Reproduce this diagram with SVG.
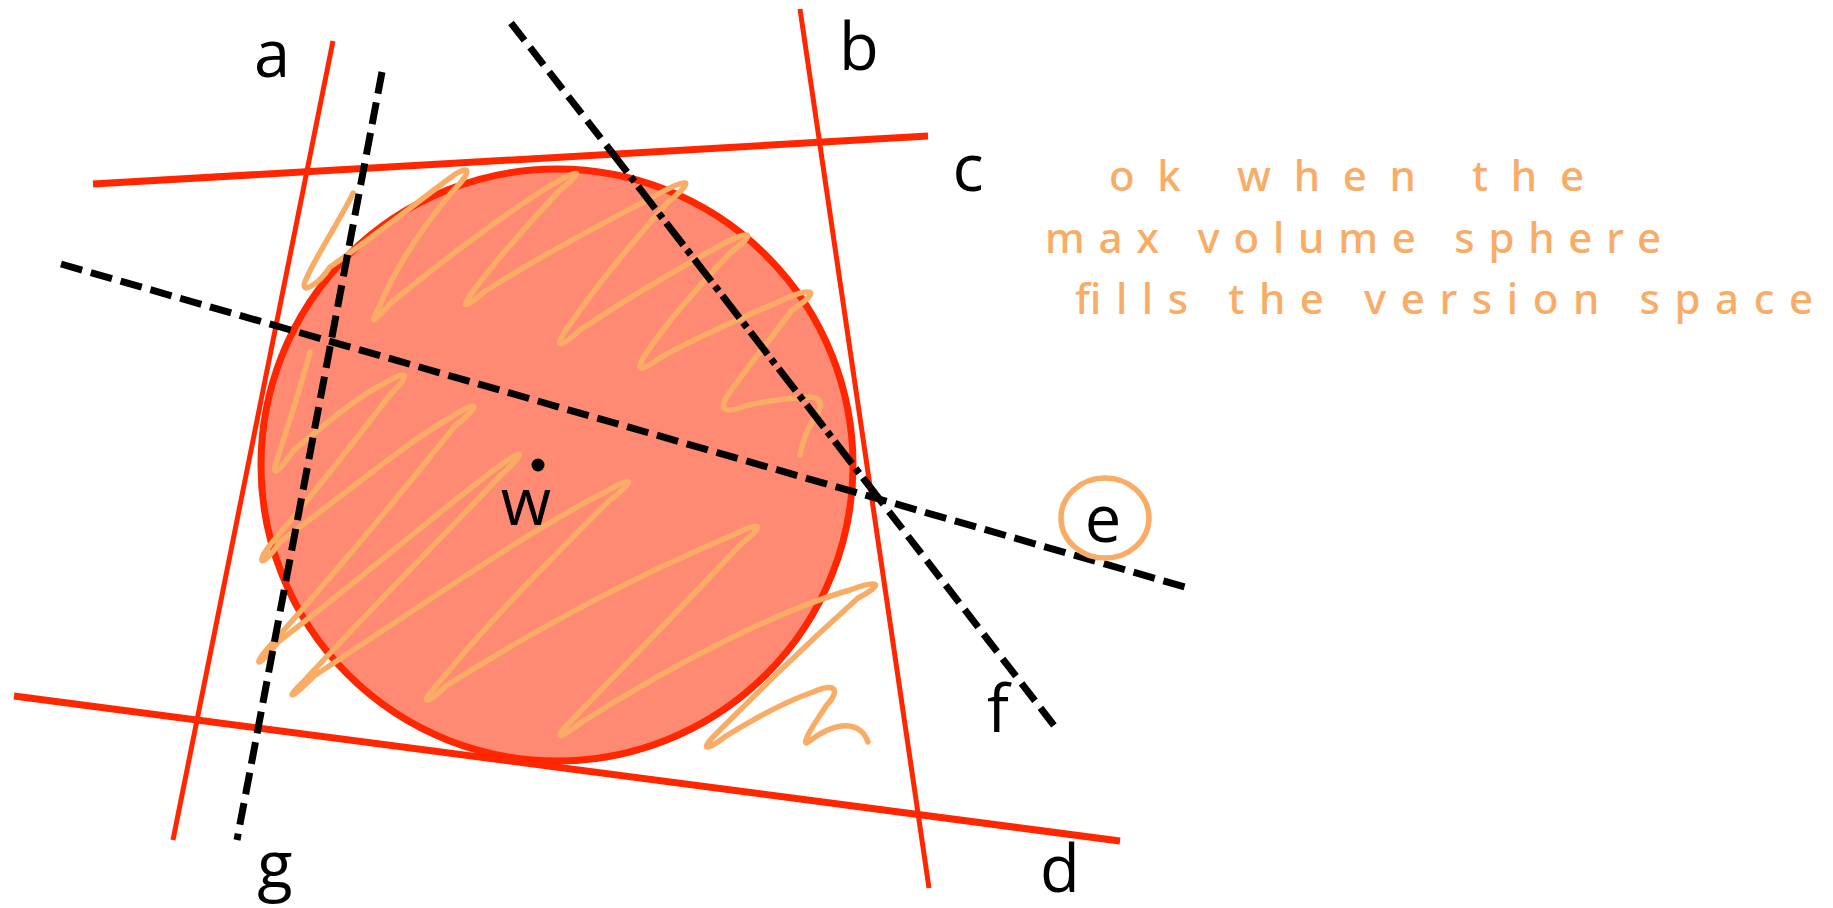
<svg xmlns="http://www.w3.org/2000/svg" width="1833" height="908" viewBox="0 0 1833 908">
<style>
.red{stroke:#FF2600;fill:none;stroke-linecap:butt}
.dash{stroke:#000;stroke-width:7;fill:none;stroke-dasharray:22 9}
.scrib{stroke:#F9AC66;stroke-width:5.5;fill:none;stroke-linecap:round;stroke-linejoin:round}
.lbl{font-family:"Open Sans","Noto Sans",sans-serif;font-size:65px;fill:#000;text-anchor:middle}
.hand{font-family:"Noto Sans","DejaVu Sans",sans-serif;font-size:42px;font-weight:500;fill:#F9AC66}
</style>
<rect width="1833" height="908" fill="#fff"/>
<g id="sphere">
<circle cx="557" cy="465" r="296" fill="#FF8A73" stroke="#FF2600" stroke-width="7"/>
</g>
<g id="scribbles">
<path class="scrib" d="M353,193 C345,212 312,262 305,282 C300,295 318,285 329.8,267.2 C380,232 420,200 450,178 C470,163 474,170 452,192 C420,230 395,270 380,305 C372,322 368,328 392,302 C450,255 510,210 555,183 C580,168 585,170 560,190 C530,222 500,255 474,290 C462,306 460,312 484,292 C550,250 610,220 662,192 C690,177 695,180 668,202 C635,240 600,280 566,330 C555,346 558,350 580,330 C640,290 690,262 725,243 C750,230 758,232 730,253 C700,285 670,318 645,355 C635,372 640,372 660,358 C700,335 750,315 787,298 C815,286 820,292 792,310 C770,340 745,370 728,395 C718,410 725,414 745,406 C770,400 790,398 808,397 C826,397 822,410 812,422 C806,432 802,444 800,455"/>
<path class="scrib" d="M310,352 C300,390 290,420 277,460 C270,480 280,470 294,450 C330,420 360,395 385,383 C410,368 410,375 390,395 C340,460 300,510 270,545 C255,565 262,568 280,542 C350,490 410,440 450,418 C480,398 482,405 455,426 C380,520 320,590 268,648 C252,667 258,668 278,642 C360,580 440,510 498,467 C525,447 527,452 502,474 C420,560 360,620 303,682 C285,700 290,700 314,676 C430,600 530,530 605,492 C635,475 636,480 610,500 C540,570 490,620 436,686 C420,704 425,706 446,686 C550,620 650,570 733,535 C764,520 765,525 740,545 C670,620 620,670 570,722 C553,740 558,740 582,722 C680,660 780,610 850,590 C882,578 883,585 858,598 C800,650 760,690 716,734 C700,750 705,752 726,736 C760,715 790,700 813,692 C840,680 838,694 826,706 C820,716 808,732 806,740 C804,748 812,738 820,734 C845,720 862,725 868,742"/>
</g>
<g id="connectors">
<line id="line-a" class="red" stroke-width="5" x1="333" y1="41" x2="173" y2="840"/>
<line id="line-b" class="red" stroke-width="5" x1="800" y1="9" x2="929" y2="888"/>
<line id="line-c" class="red" stroke-width="7" x1="93" y1="184" x2="928" y2="136"/>
<line id="line-d" class="red" stroke-width="7" x1="14" y1="696" x2="1120" y2="841"/>
<line id="line-g" class="dash" x1="382" y1="72" x2="237" y2="840"/>
<line id="line-e" class="dash" x1="61" y1="264" x2="1185" y2="587"/>
<line id="line-f1" class="dash" x1="511" y1="23" x2="610" y2="150"/>
<line id="line-f2" class="dash" style="stroke-dasharray:28 6 6 6" x1="610" y1="150" x2="870" y2="487"/>
<line id="line-f3" class="dash" x1="870" y1="487" x2="1056" y2="728"/>
</g>
<g id="w-point">
<circle cx="538" cy="465" r="6.5" fill="#000"/>
<text class="lbl" x="526" y="525">w</text>
</g>
<g id="labels">
<text class="lbl" x="272" y="77">a</text>
<text class="lbl" x="859" y="70">b</text>
<text class="lbl" x="968" y="191">c</text>
<text class="lbl" x="1060" y="892">d</text>
<text class="lbl" x="1103" y="542">e</text>
<text class="lbl" x="998" y="732">f</text>
<text class="lbl" x="275" y="888">g</text>
</g>
<g id="e-mark">
<ellipse cx="1105" cy="518" rx="44" ry="40" class="scrib"/>
</g>
<g id="note">
<text class="hand" x="1109" y="191" textLength="475" lengthAdjust="spacing">ok when the</text>
<text class="hand" x="1045" y="253" textLength="616" lengthAdjust="spacing">max volume sphere</text>
<text class="hand" x="1075" y="314" textLength="738" lengthAdjust="spacing">fills the version space</text>
</g>
</svg>
